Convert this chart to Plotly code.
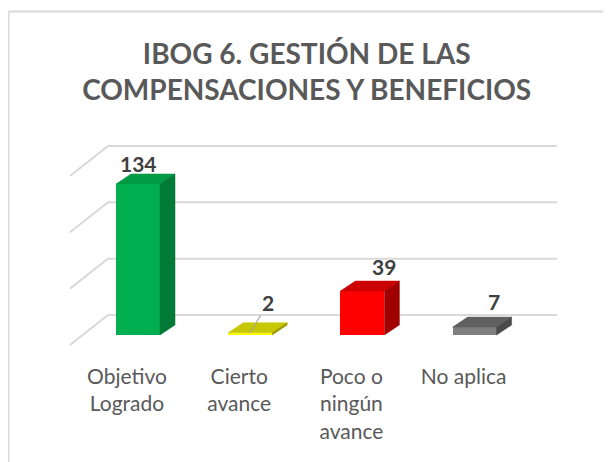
import plotly.graph_objects as go

# ---- data ----
categories = ["Objetivo<br>Logrado", "Cierto<br>avance", "Poco o<br>ningún<br>avance", "No aplica"]
values = [134, 2, 39, 7]
front_colors = ["#00b050", "#ffff00", "#ff0000", "#7f7f7f"]
top_colors = ["#009a45", "#c8c800", "#cc0000", "#606060"]
side_colors = ["#007a36", "#9a9a00", "#a00000", "#4a4a4a"]
grid_values = [0, 50, 100, 150]
title_text = "IBOG 6. GESTIÓN DE LAS<br>COMPENSACIONES Y BENEFICIOS"

# ---- geometry (pixel scale -> data units) ----
W, H = 603, 454
ML, MR, MT, MB = 52, 51, 132, 110
PW, PH = W - ML - MR, H - MT - MB
PX_PER_CAT = 112.2
PX_PER_VAL = 1.127
KX = 1.0 / PX_PER_CAT
KY = 1.0 / PX_PER_VAL
bar_w = 44 * KX
hw = bar_w / 2
depth_dx, depth_dy = 15 * KX, 10 * KY          # bar depth
wall_dy = 20 * KY                               # back wall behind bar front
wall_left, wall_right = -30 * KX, 419 * KX
side_dx, side_dy = -38 * KX, -30 * KY           # left-wall floor lines

fig = go.Figure()

# front faces
fig.add_trace(go.Bar(
    x=list(range(len(values))), y=values, width=bar_w,
    marker=dict(color=front_colors, line=dict(width=0)),
    hoverinfo="skip", showlegend=False))

# top and side faces
for i, v in enumerate(values):
    fig.add_trace(go.Scatter(
        x=[i - hw, i + hw, i + hw + depth_dx, i - hw + depth_dx, i - hw],
        y=[v, v, v + depth_dy, v + depth_dy, v],
        fill="toself", fillcolor=top_colors[i], mode="lines",
        line=dict(color=top_colors[i], width=0.5),
        hoverinfo="skip", showlegend=False))
    fig.add_trace(go.Scatter(
        x=[i + hw, i + hw, i + hw + depth_dx, i + hw + depth_dx, i + hw],
        y=[0, v, v + depth_dy, depth_dy, 0],
        fill="toself", fillcolor=side_colors[i], mode="lines",
        line=dict(color=side_colors[i], width=0.5),
        hoverinfo="skip", showlegend=False))

# gridlines (back wall + left floor/wall lines)
shapes = []
for g in grid_values:
    yb = g + wall_dy
    shapes.append(dict(type="line", xref="x", yref="y", layer="below",
                       x0=wall_left, x1=wall_right, y0=yb, y1=yb,
                       line=dict(color="#d9d9d9", width=2)))
    shapes.append(dict(type="line", xref="x", yref="y", layer="below",
                       x0=wall_left, x1=wall_left + side_dx, y0=yb, y1=yb + side_dy,
                       line=dict(color="#d9d9d9", width=2)))

# chart border (top and left edges visible)
bx = (0.5 - ML) / PW
by = (PH + MT - 3.5) / PH
shapes.append(dict(type="line", xref="paper", yref="paper",
                   x0=bx, x1=1.2, y0=by, y1=by,
                   line=dict(color="#d9d9d9", width=2)))
shapes.append(dict(type="line", xref="paper", yref="paper",
                   x0=bx, x1=bx, y0=by, y1=-0.6,
                   line=dict(color="#d9d9d9", width=2)))

# data labels
label_shift = [(1, 20), (18, 30), (22, 25), (19, 26)]
annotations = []
for i, v in enumerate(values):
    sx, sy = label_shift[i]
    if i == 1:
        annotations.append(dict(x=i, y=v, xref="x", yref="y", text="<b>%d</b>" % v,
                                showarrow=True, arrowhead=0, arrowwidth=1.2,
                                arrowcolor="#a6a6a6", ax=sx, ay=-sy,
                                font=dict(family="Lato", size=21, color="#404040"),
                                xanchor="center", yanchor="middle"))
    else:
        annotations.append(dict(x=i, y=v, xref="x", yref="y", text="<b>%d</b>" % v,
                                showarrow=False, xshift=sx, yshift=sy,
                                font=dict(family="Lato", size=21, color="#404040"),
                                xanchor="center", yanchor="middle"))

fig.update_layout(
    width=W, height=H,
    margin=dict(l=ML, r=MR, t=MT, b=MB),
    paper_bgcolor="white", plot_bgcolor="white",
    title=dict(text="<b>" + title_text + "</b>", x=(305.5 - 8) / W, xref="paper",
               xanchor="center",
               y=1 - 56 / H, yref="container", yanchor="top",
               font=dict(family="Lato", size=28, color="#595959")),
    xaxis=dict(range=[-0.695, 3.761], showgrid=False, zeroline=False, showline=False,
               tickvals=[i - 0.098 for i in range(len(categories))], ticktext=categories,
               ticks="", ticklabelstandoff=10,
               tickfont=dict(family="Lato", size=21, color="#595959")),
    yaxis=dict(range=[-15.08, 173.0], visible=False),
    shapes=shapes, annotations=annotations, bargap=0, showlegend=False,
)

fig.write_html("out.html")
